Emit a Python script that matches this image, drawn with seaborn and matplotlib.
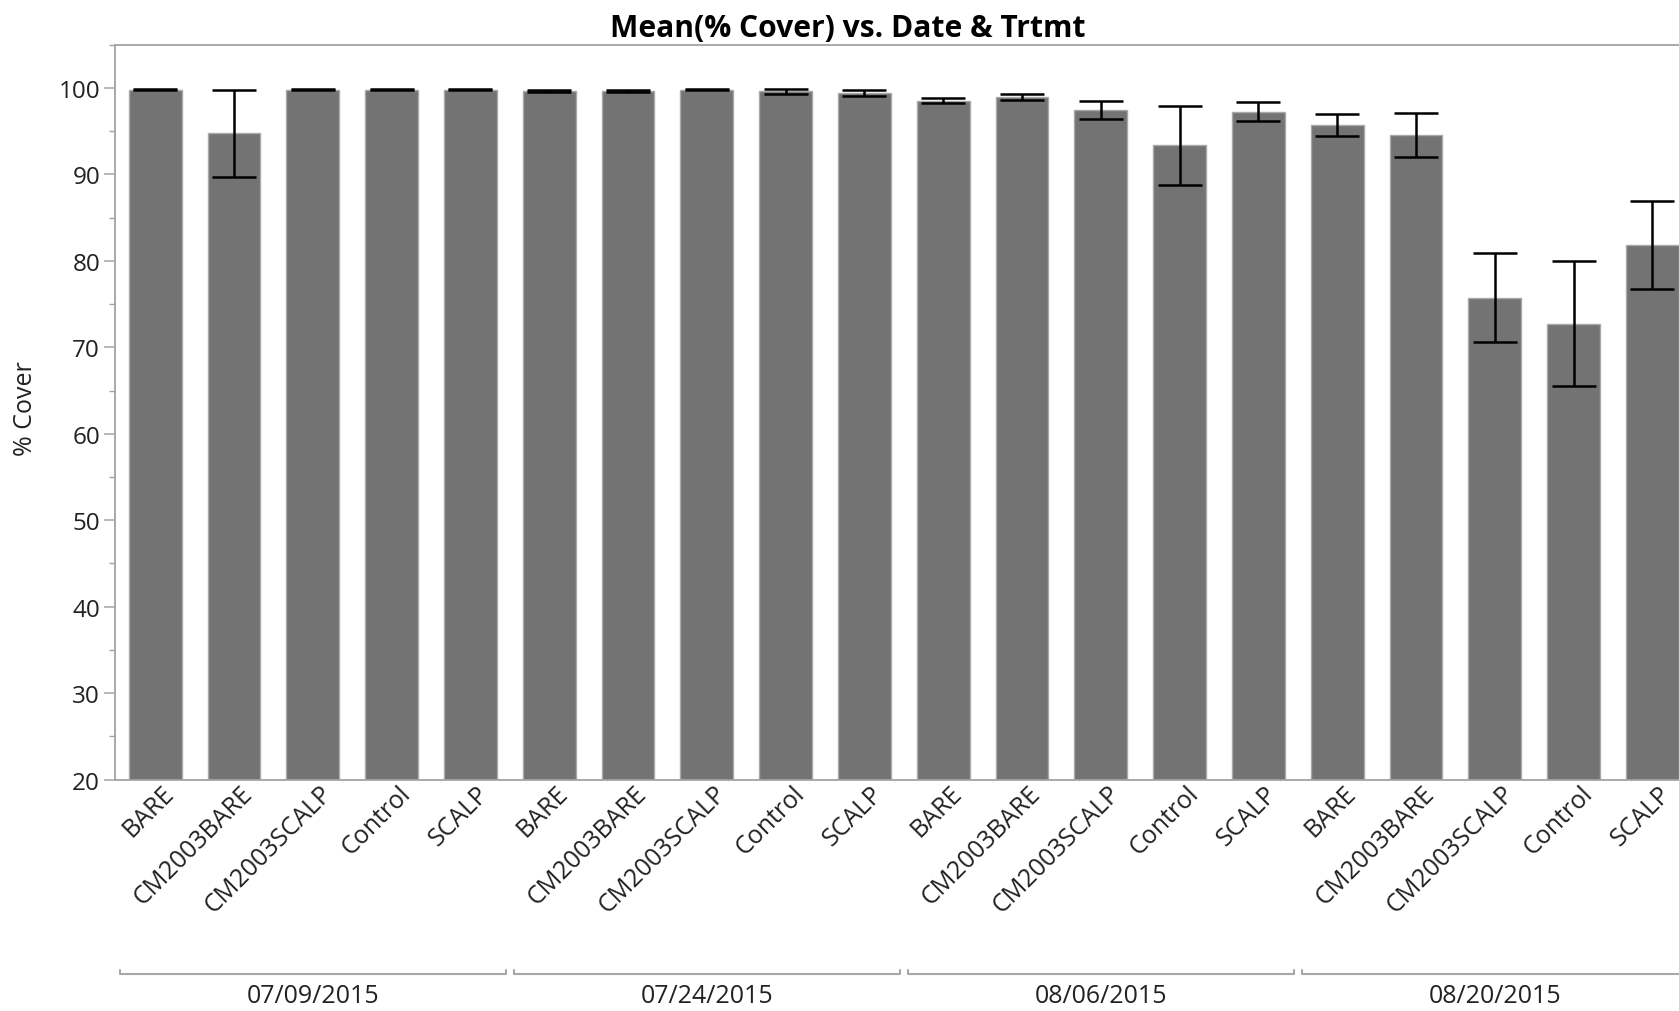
import matplotlib
matplotlib.use("Agg")
import matplotlib.pyplot as plt
import matplotlib.transforms as mtransforms
from matplotlib.ticker import MultipleLocator
import numpy as np
import pandas as pd
import seaborn as sns

# Mean % cover by sampling date and treatment, with error-bar half-widths
dates = ["07/09/2015", "07/24/2015", "08/06/2015", "08/20/2015"]
treatments = ["BARE", "CM2003BARE", "CM2003SCALP", "Control", "SCALP"]

cover_0709 = [99.8, 94.75, 99.8, 99.8, 99.8]
cover_0724 = [99.65, 99.65, 99.8, 99.6, 99.45]
cover_0806 = [98.5, 98.95, 97.45, 93.35, 97.25]
cover_0820 = [95.75, 94.55, 75.75, 72.75, 81.85]

err_0709 = [0.05, 5.05, 0.05, 0.05, 0.05]
err_0724 = [0.08, 0.08, 0.08, 0.27, 0.35]
err_0806 = [0.3, 0.3, 1.05, 4.6, 1.1]
err_0820 = [1.28, 2.5, 5.1, 7.2, 5.05]

covers = [cover_0709, cover_0724, cover_0806, cover_0820]
errs = [err_0709, err_0724, err_0806, err_0820]

rows = []
for d, cov, er in zip(dates, covers, errs):
    for t, c, e in zip(treatments, cov, er):
        rows.append({"Date": d, "Trtmt": t, "Cover": c, "Err": e, "Key": f"{d}|{t}"})
df = pd.DataFrame(rows)

sns.set_style("white")
plt.rcParams["font.family"] = ["Open Sans", "DejaVu Sans"]
TEXT = "#222222"
AXIS = "#a3a3a3"

W, H = 1679, 1012
fig = plt.figure(figsize=(W / 100, H / 100), dpi=100)

# axes extend past the right edge of the figure, so the last bars are cut off
px_per_unit = 78.8
x_left = -0.516
x_right = 19.6
ax_left = 114.6 / W
ax_width = (x_right - x_left) * px_per_unit / W
ax_bottom = (H - 780.6) / H
ax_top = (H - 45.7) / H
ax = fig.add_axes([ax_left, ax_bottom, ax_width, ax_top - ax_bottom])

sns.barplot(data=df, x="Key", y="Cover", order=list(df["Key"]), color="#737373",
            saturation=1, width=0.67, errorbar=None, edgecolor="#a9a9a9",
            linewidth=1.0, ax=ax)

xs = np.array([p.get_x() + p.get_width() / 2 for p in ax.patches])
ax.errorbar(xs, df["Cover"], yerr=df["Err"], fmt="none", ecolor="black",
            elinewidth=1.8, capsize=15.5, capthick=1.8, zorder=5)

ax.set_xlim(x_left, x_right)
ax.set_ylim(20, 105)
ax.yaxis.set_major_locator(MultipleLocator(10))
ax.yaxis.set_minor_locator(MultipleLocator(5))
ax.tick_params(axis="y", which="major", length=8, width=1.1, color=AXIS,
               labelsize=17.5, labelcolor=TEXT, pad=2.5, left=True)
ax.tick_params(axis="y", which="minor", length=4, width=1.0, color=AXIS, left=True)
ax.set_xticks(xs)
ax.set_xticklabels(df["Trtmt"], rotation=45, ha="right", va="center",
                   rotation_mode="anchor")
ax.tick_params(axis="x", length=0, labelsize=18, labelcolor=TEXT, pad=7)
shift = mtransforms.ScaledTranslation(15 / 100, 0, fig.dpi_scale_trans)
for lab in ax.get_xticklabels():
    lab.set_transform(lab.get_transform() + shift)
ax.set_xlabel("")
ax.set_ylabel("")
for side in ["left", "top", "bottom", "right"]:
    ax.spines[side].set_visible(True)
    ax.spines[side].set_color(AXIS)
    ax.spines[side].set_linewidth(1.3)

# date group brackets and labels below the treatment labels
trans = mtransforms.blended_transform_factory(ax.transData, fig.transFigure)
y_line = 1 - 975 / H
y_tip = y_line + 4 / H
for g, d in enumerate(dates):
    x0 = xs[g * 5] - 0.45
    x1 = xs[g * 5 + 4] + 0.45
    ax.plot([x0, x0, x1, x1], [y_tip, y_line, y_line, y_tip], transform=trans,
            color="#a8a8a8", lw=1.5, clip_on=False)
    ax.text(xs[g * 5 + 2], 1 - 997 / H, d, transform=trans, ha="center",
            va="center", fontsize=18, color=TEXT, clip_on=False)

fig.text(25.7 / W, 1 - 409 / H, "% Cover", rotation=90, ha="center",
         va="center", fontsize=18, color=TEXT)
fig.text(847.5 / W, 1 - 37.5 / H, "Mean(% Cover) vs. Date & Trtmt", ha="center",
         va="baseline", fontsize=21.6, fontweight="bold", color="black")

fig.savefig("out.png", dpi=100)
